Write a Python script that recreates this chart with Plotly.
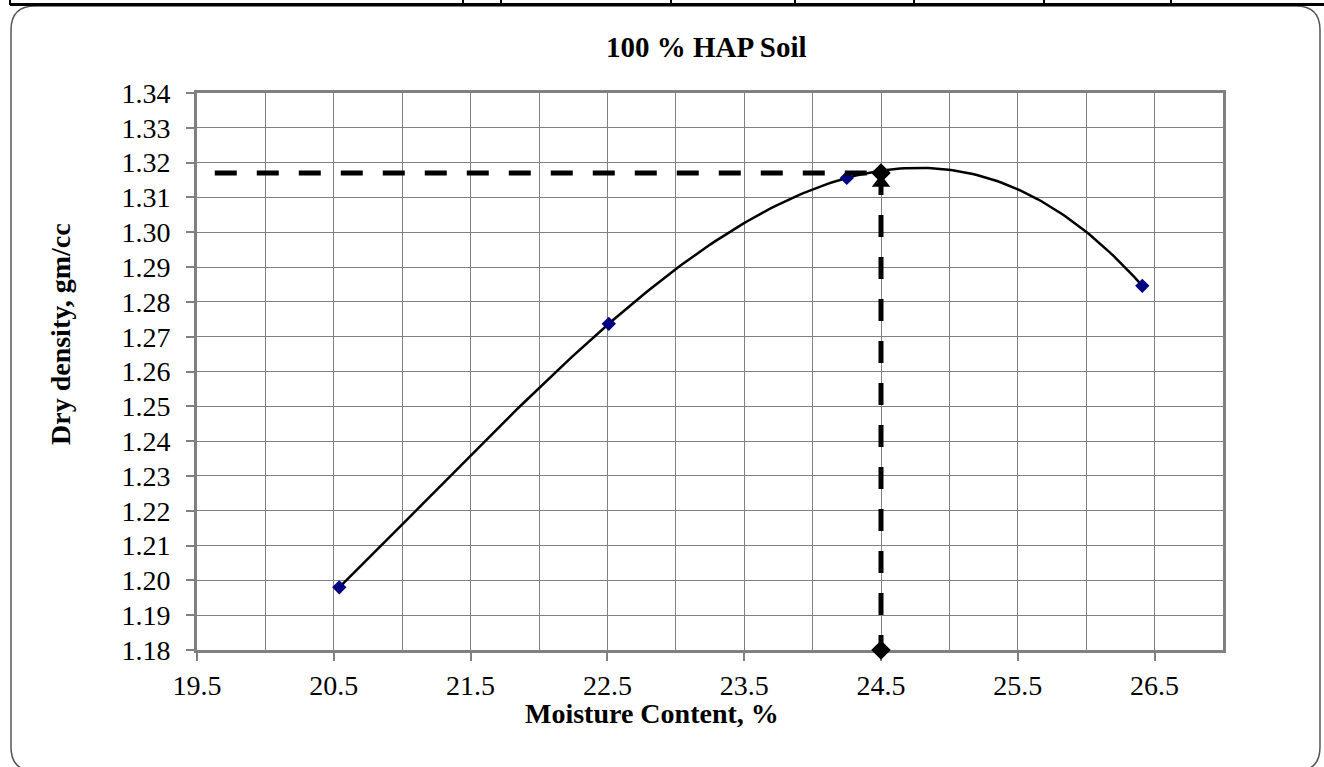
import numpy as np
import plotly.graph_objects as go

# ---------------- data ----------------
moisture = [20.54, 22.51, 24.25, 26.41]          # Moisture Content, %
density = [1.198, 1.2737, 1.3156, 1.2846]        # Dry density, gm/cc
omc = 24.5                                        # optimum moisture content
mdd = 1.317                                       # maximum dry density
guide_start_x = 19.63
curve_peak_marker = 1.3142
y_floor = 1.18
x_tick_vals = [19.5, 20.5, 21.5, 22.5, 23.5, 24.5, 25.5, 26.5]
x_tick_text = ["19.5", "20.5", "21.5", "22.5", "23.5", "24.5", "25.5", "26.5"]
y_tick_vals = [1.18, 1.19, 1.20, 1.21, 1.22, 1.23, 1.24, 1.25, 1.26,
               1.27, 1.28, 1.29, 1.30, 1.31, 1.32, 1.33, 1.34]
table_cols_px = [10, 463, 501, 671, 795, 914, 1044, 1171]

# ---------------- layout geometry ----------------
W, H = 1324, 767
ML, MR, MT, MB = 197, 101, 93, 117
PW, PH = W - ML - MR, H - MT - MB
FONT = "Liberation Serif, Times New Roman, serif"


def px(xp):
    return (xp - ML) / PW


def py(yp):
    return (H - MB - yp) / PH


# polynomial (3rd order) trendline, as produced by the spreadsheet
coef = np.polyfit(moisture, density, 3)
xs = np.linspace(min(moisture), max(moisture), 200)
ys = np.polyval(coef, xs)

fig = go.Figure()

fig.add_trace(go.Scatter(x=xs, y=ys, mode="lines",
                         line=dict(color="black", width=2.5),
                         hoverinfo="skip", showlegend=False))
fig.add_trace(go.Scatter(x=moisture, y=density, mode="markers",
                         marker=dict(symbol="diamond", size=11, color="#000080"),
                         showlegend=False))
# guide lines
fig.add_trace(go.Scatter(x=[guide_start_x, omc], y=[mdd, mdd], mode="lines",
                         line=dict(color="black", width=5, dash="22px,20px"),
                         showlegend=False))
fig.add_trace(go.Scatter(x=[omc, omc], y=[mdd, y_floor], mode="lines",
                         line=dict(color="black", width=5, dash="22px,20px"),
                         showlegend=False))
fig.add_trace(go.Scatter(x=[omc], y=[curve_peak_marker], mode="markers",
                         marker=dict(symbol="triangle-up", size=16, color="black"),
                         showlegend=False))
fig.add_trace(go.Scatter(x=[omc, omc], y=[mdd, y_floor], mode="markers",
                         marker=dict(symbol="diamond", size=15, color="black"),
                         cliponaxis=False, showlegend=False))

axis_common = dict(showline=True, linecolor="#808080", linewidth=3, mirror=True,
                   gridcolor="#808080", gridwidth=1, zeroline=False,
                   ticks="outside", ticklen=8, tickcolor="#808080", tickwidth=2,
                   layer="below traces",
                   tickfont=dict(family=FONT, size=28, color="black"))

fig.update_xaxes(range=[19.5, 27.0], tickvals=x_tick_vals, ticktext=x_tick_text,
                 minor=dict(dtick=0.5, tick0=19.5, showgrid=True,
                            gridcolor="#808080", gridwidth=1, ticks=""),
                 **axis_common)
fig.update_yaxes(range=[1.18, 1.34], tickvals=y_tick_vals, tickformat=".2f",
                 ticklabelstandoff=10, **axis_common)

shapes = []
# rounded outer border of the chart area
L, R, T, B, r = 11, 1320, 6, 771, 24
path = (f"M {px(L + r)},{py(T)} L {px(R - r)},{py(T)} "
        f"Q {px(R)},{py(T)} {px(R)},{py(T + r)} "
        f"L {px(R)},{py(B - r)} Q {px(R)},{py(B)} {px(R - r)},{py(B)} "
        f"L {px(L + r)},{py(B)} Q {px(L)},{py(B)} {px(L)},{py(B - r)} "
        f"L {px(L)},{py(T + r)} Q {px(L)},{py(T)} {px(L + r)},{py(T)} Z")
shapes.append(dict(type="path", xref="paper", yref="paper", path=path,
                   line=dict(color="#555555", width=1.5), layer="below"))
# table rule at the very top of the page
shapes.append(dict(type="line", xref="paper", yref="paper",
                   x0=px(10), x1=px(W + 5), y0=py(4.5), y1=py(4.5),
                   line=dict(color="black", width=3)))
for c in table_cols_px:
    shapes.append(dict(type="line", xref="paper", yref="paper",
                       x0=px(c), x1=px(c), y0=py(-2), y1=py(5),
                       line=dict(color="black", width=2)))

annotations = [
    dict(text="<b>100 % HAP Soil</b>", xref="paper", yref="paper",
         x=px(706), y=py(47), showarrow=False, xanchor="center", yanchor="middle",
         font=dict(family=FONT, size=29, color="black")),
    dict(text="<b>Moisture Content, %</b>", xref="paper", yref="paper",
         x=px(652), y=py(714), showarrow=False, xanchor="center", yanchor="middle",
         font=dict(family=FONT, size=28, color="black")),
    dict(text="<b>Dry density, gm/cc</b>", xref="paper", yref="paper",
         x=px(60), y=py(334), showarrow=False, xanchor="center", yanchor="middle",
         textangle=-90, font=dict(family=FONT, size=28, color="black")),
]

fig.update_layout(width=W, height=H,
                  margin=dict(l=ML, r=MR, t=MT, b=MB),
                  paper_bgcolor="white", plot_bgcolor="white",
                  showlegend=False, shapes=shapes, annotations=annotations,
                  font=dict(family=FONT, color="black"))

fig.write_html("out.html")
